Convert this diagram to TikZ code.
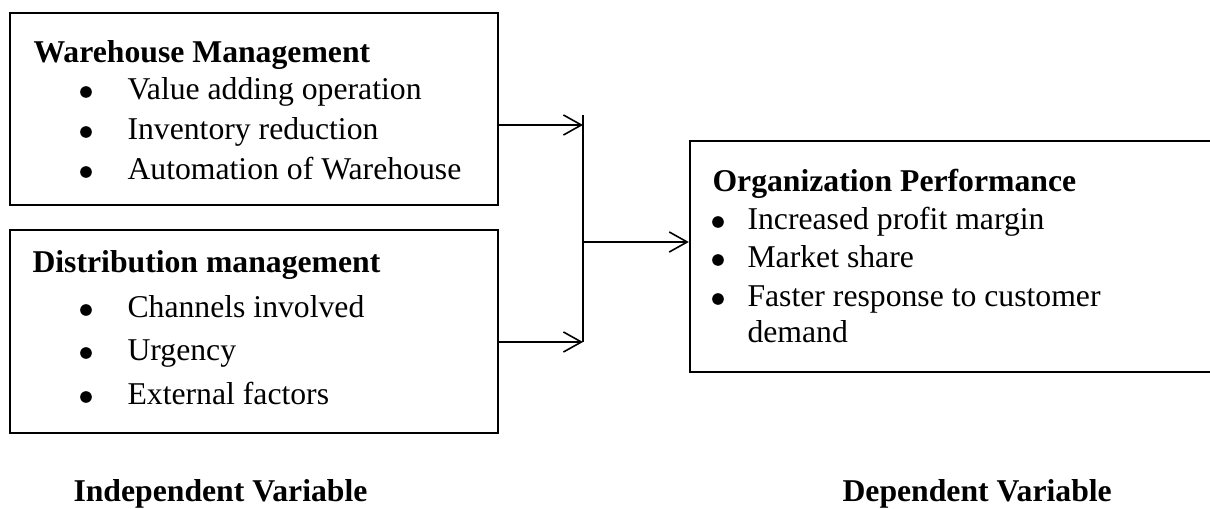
\documentclass[tikz,border=0pt]{standalone}
\usepackage{fontspec}
\setmainfont{Liberation Serif}
\usepackage{tikz}
\usetikzlibrary{arrows.meta, fit}

\begin{document}
\begin{tikzpicture}[x=0.3785pt, y=-0.3785pt, font=\fontsize{12}{14}\selectfont,
    box/.style={draw, line width=0.9pt, inner sep=0pt},
    head/.style={anchor=base west, inner sep=0pt, font=\fontsize{12}{14}\selectfont\bfseries},
    item/.style={anchor=base west, inner sep=0pt},
    dot/.style={circle, fill, inner sep=0pt, minimum size=4.4pt},
    link/.style={line width=0.6pt, -{Straight Barb[length=6.8pt, width=7.6pt]}}]
  \useasboundingbox (0,0) rectangle (1210,509);
  \clip (0,0) rectangle (1210,509);

  % independent variables
  \node[box, fit={(10,13) (498,205)}] (wm) {};
  \node[head] (wmt) at (33,63) {Warehouse Management};
  \node[dot] (wmd1) at (86,92) {}; \node[item] (wmi1) at (127,100) {Value adding operation};
  \node[dot] (wmd2) at (86,132) {}; \node[item] (wmi2) at (127,140) {Inventory reduction};
  \node[dot] (wmd3) at (86,172) {}; \node[item] (wmi3) at (127,180) {Automation of Warehouse};

  \node[box, fit={(10,230) (498,433)}] (dm) {};
  \node[head] (dmt) at (32,273) {Distribution management};
  \node[dot] (dmd1) at (86,310) {}; \node[item] (dmi1) at (127,318) {Channels involved};
  \node[dot] (dmd2) at (86,353) {}; \node[item] (dmi2) at (127,361) {Urgency};
  \node[dot] (dmd3) at (86,397) {}; \node[item] (dmi3) at (127,405) {External factors};

  % dependent variable
  \node[box, fit={(690,141) (1230,372)}] (op) {};
  \node[head] (opt) at (712,192) {Organization Performance};
  \node[dot] (opd1) at (718,222) {}; \node[item] (opi1) at (747,230) {Increased profit margin};
  \node[dot] (opd2) at (718,260) {}; \node[item] (opi2) at (747,268) {Market share};
  \node[dot] (opd3) at (718,299) {}; \node[item] (opi3) at (747,307) {Faster response to customer};
  \node[item] (opi4) at (747,343) {demand};

  % joining line and arrows
  \coordinate (jtop) at (583,115);
  \coordinate (jwm) at (583,125);
  \coordinate (jmid) at (583,242);
  \coordinate (jbot) at (583,342);
  \draw[line width=0.6pt] (jtop) -- (jbot);
  \draw[link] (jwm -| wm.east) -- (jwm);
  \draw[link] (jbot -| dm.east) -- (jbot);
  \draw[link] (jmid) -- (jmid -| op.west);

  \node[head] (iv) at (73,502) {Independent Variable};
  \node[head] (dv) at (842,502) {Dependent Variable};
\end{tikzpicture}
\end{document}
